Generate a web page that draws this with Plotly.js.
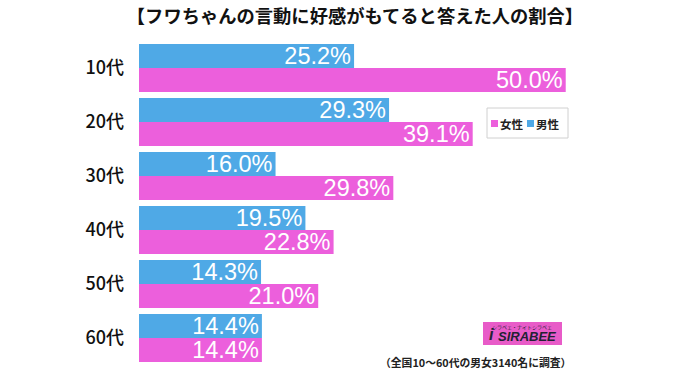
<!DOCTYPE html>
<html>
<head>
<meta charset="utf-8">
<script src="https://cdn.plot.ly/plotly-3.0.1.min.js"></script>
<style>html,body{margin:0;padding:0;background:#fff;}#chart{width:700px;height:373px;}</style>
</head>
<body>
<div id="chart"></div>
<script>
const categories = ["10代", "20代", "30代", "40代", "50代", "60代"];
const maleValues = [25.2, 29.3, 16.0, 19.5, 14.3, 14.4];
const femaleValues = [50.0, 39.1, 29.8, 22.8, 21.0, 14.4];
const seriesNames = ["男性", "女性"];
const titleText = "【フワちゃんの言動に好感がもてると答えた人の割合】";
const noteText = "（全国10〜60代の男女3140名に調査）";

const BLUE = "#4FA9E6";
const PINK = "#EC5FDC";
const CJK = "'Noto Sans CJK JP', 'Noto Sans', sans-serif";
const NUM = "'Liberation Sans', Arial, sans-serif";

const barText = {
  type: "bar", orientation: "h",
  texttemplate: "%{x:.1f}%", textposition: "inside", insidetextanchor: "end",
  constraintext: "none", cliponaxis: false,
  textfont: {family: NUM, size: 23.5, color: "#ffffff"},
  hoverinfo: "skip", showlegend: false
};

const data = [
  Object.assign({}, barText, {name: seriesNames[0], y: categories, x: maleValues, marker: {color: BLUE}}),
  Object.assign({}, barText, {name: seriesNames[1], y: categories, x: femaleValues, marker: {color: PINK}})
];

const layout = {
  width: 700, height: 373,
  margin: {l: 139, r: 66, t: 41, b: 8},
  paper_bgcolor: "#ffffff", plot_bgcolor: "#ffffff",
  barmode: "group", bargap: 0.111, bargroupgap: 0,
  showlegend: false,
  title: {text: "<b>" + titleText + "</b>", x: 355/700, xref: "container", xanchor: "center",
          y: 1 - 17/373, yref: "container", yanchor: "middle",
          font: {family: CJK, size: 18.3, color: "#111111"}},
  xaxis: {range: [0, 58], showticklabels: false, showgrid: false, zeroline: false, showline: false, fixedrange: true},
  yaxis: {autorange: "reversed", type: "category", showgrid: false, zeroline: false, showline: false,
          ticks: "", ticklabelstandoff: 14,
          tickfont: {family: CJK, size: 18, weight: 500, color: "#111111"}},
  shapes: [
    {type: "rect", xref: "paper", yref: "paper", x0: (487-139)/495, x1: (568-139)/495, y0: 1-(138-41)/324, y1: 1-(108-41)/324,
     line: {color: "#d0d0d0", width: 1}, fillcolor: "rgba(0,0,0,0)"},
    {type: "rect", xref: "paper", yref: "paper", x0: (491-139)/495, x1: (498-139)/495, y0: 1-(127-41)/324, y1: 1-(120-41)/324,
     line: {width: 0}, fillcolor: PINK},
    {type: "rect", xref: "paper", yref: "paper", x0: (527-139)/495, x1: (534-139)/495, y0: 1-(127-41)/324, y1: 1-(120-41)/324,
     line: {width: 0}, fillcolor: BLUE},
    {type: "rect", xref: "paper", yref: "paper", x0: (483-139)/495, x1: (562-139)/495, y0: 1-(345-41)/324, y1: 1-(322-41)/324,
     line: {width: 0}, fillcolor: "#E85BC8"}
  ],
  annotations: [
    {text: "<b>" + seriesNames[1] + "</b>", xref: "paper", yref: "paper", x: (498-139)/495, y: 1-(123.5-41)/324, xanchor: "left", yanchor: "middle",
     showarrow: false, font: {family: CJK, size: 11.5, color: "#222"}},
    {text: "<b>" + seriesNames[0] + "</b>", xref: "paper", yref: "paper", x: (534-139)/495, y: 1-(123.5-41)/324, xanchor: "left", yanchor: "middle",
     showarrow: false, font: {family: CJK, size: 11.5, color: "#222"}},
    {text: "<b><i>SIRABEE</i></b>", xref: "paper", yref: "paper", x: (496-139)/495, y: 1-(336-41)/324, xanchor: "left", yanchor: "middle",
     showarrow: false, font: {family: NUM, size: 13, color: "#222233"}},
    {text: "<b><i>i</i></b>", xref: "paper", yref: "paper", x: (487-139)/495, y: 1-(334-41)/324, xanchor: "left", yanchor: "middle",
     showarrow: false, font: {family: NUM, size: 16, color: "#222233"}},
    {text: "シラベェ・ナイトシラベェ", xref: "paper", yref: "paper", x: (522-139)/495, y: 1-(326.5-41)/324, xanchor: "center", yanchor: "middle",
     showarrow: false, font: {family: CJK, size: 5, color: "#222233"}},
    {text: "<b>" + noteText + "</b>", xref: "paper", yref: "paper", x: (573-139)/495, y: 1-(362-41)/324, xanchor: "right", yanchor: "middle",
     showarrow: false, font: {family: CJK, size: 10.8, color: "#222"}}
  ]
};

Plotly.newPlot("chart", data, layout, {displayModeBar: false, staticPlot: true});
</script>
</body>
</html>
